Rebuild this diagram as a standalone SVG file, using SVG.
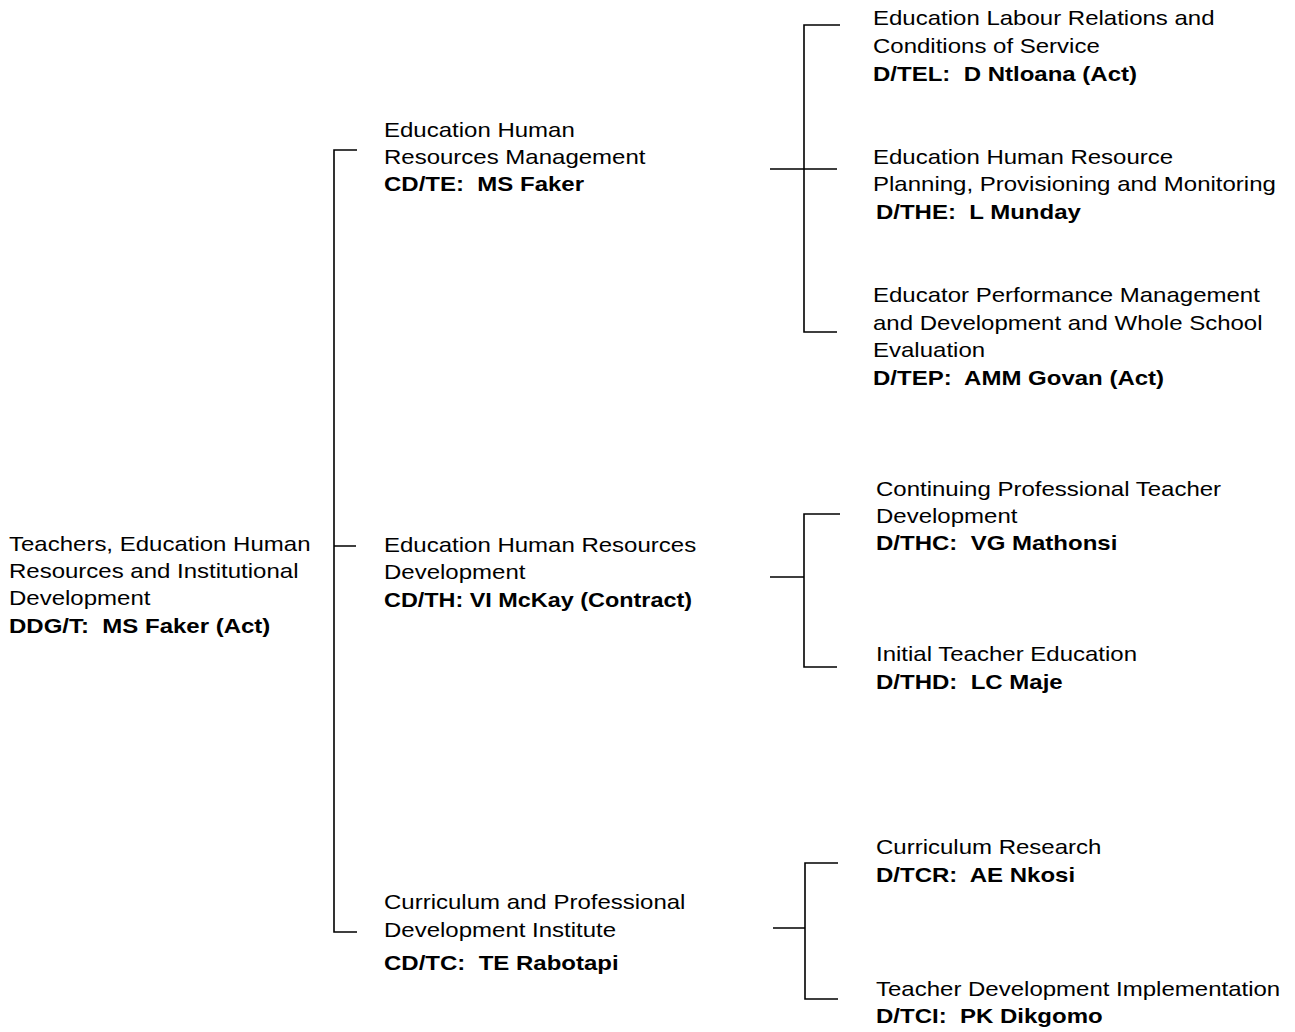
<svg xmlns="http://www.w3.org/2000/svg" width="1295" height="1032" viewBox="0 0 1295 1032" xml:space="preserve">
  <style>
    text { font-family: "Liberation Sans", Arial, sans-serif; font-size: 21px; fill: #000; white-space: pre; }
    .b { font-weight: bold; }
    .ln { stroke: #000; stroke-width: 1.6; fill: none; }
  </style>
  <rect width="1295" height="1032" fill="#fff"/>

  <!-- connectors: bracket lines -->
  <g id="connectors">
    <path class="ln" d="M357 150 H334 V932 H357 M334 546 H356"/>
    <path class="ln" d="M840 25 H804 V332 H837 M770 169 H837"/>
    <path class="ln" d="M840 514 H804 V667 H837 M770 577 H804"/>
    <path class="ln" d="M838 863 H805 V999 H838 M773 928 H805"/>
  </g>

  <!-- text is set slightly wide to fit the column widths -->
  <g id="ddg" transform="translate(9 0) scale(1.143 1)">
    <text x="0" y="551">Teachers, Education Human</text>
    <text x="0" y="578">Resources and Institutional</text>
    <text x="0" y="605">Development</text>
    <text class="b" x="0" y="633">DDG/T:  MS Faker (Act)</text>
  </g>

  <g id="cd-te" transform="translate(384 0) scale(1.143 1)">
    <text x="0" y="137">Education Human</text>
    <text x="0" y="164">Resources Management</text>
    <text class="b" x="0" y="191">CD/TE:  MS Faker</text>
  </g>

  <g id="cd-th" transform="translate(384 0) scale(1.143 1)">
    <text x="0" y="552">Education Human Resources</text>
    <text x="0" y="579">Development</text>
    <text class="b" x="0" y="607" textLength="269.5" lengthAdjust="spacingAndGlyphs">CD/TH: VI McKay (Contract)</text>
  </g>

  <g id="cd-tc" transform="translate(384 0) scale(1.143 1)">
    <text x="0" y="909">Curriculum and Professional</text>
    <text x="0" y="937">Development Institute</text>
    <text class="b" x="0" y="970">CD/TC:  TE Rabotapi</text>
  </g>

  <g id="d-tel" transform="translate(873 0) scale(1.143 1)">
    <text x="0" y="25">Education Labour Relations and</text>
    <text x="0" y="53">Conditions of Service</text>
    <text class="b" x="0" y="81">D/TEL:  D Ntloana (Act)</text>
  </g>

  <g id="d-the" transform="translate(873 0) scale(1.143 1)">
    <text x="0" y="164">Education Human Resource</text>
    <text x="0" y="191">Planning, Provisioning and Monitoring</text>
    <text class="b" x="2.6" y="219">D/THE:  L Munday</text>
  </g>

  <g id="d-tep" transform="translate(873 0) scale(1.143 1)">
    <text x="0" y="302">Educator Performance Management</text>
    <text x="0" y="330">and Development and Whole School</text>
    <text x="0" y="357">Evaluation</text>
    <text class="b" x="0" y="385">D/TEP:  AMM Govan (Act)</text>
  </g>

  <g id="d-thc" transform="translate(876 0) scale(1.143 1)">
    <text x="0" y="496">Continuing Professional Teacher</text>
    <text x="0" y="523">Development</text>
    <text class="b" x="0" y="550">D/THC:  VG Mathonsi</text>
  </g>

  <g id="d-thd" transform="translate(876 0) scale(1.143 1)">
    <text x="0" y="661">Initial Teacher Education</text>
    <text class="b" x="0" y="689">D/THD:  LC Maje</text>
  </g>

  <g id="d-tcr" transform="translate(876 0) scale(1.143 1)">
    <text x="0" y="854">Curriculum Research</text>
    <text class="b" x="0" y="882">D/TCR:  AE Nkosi</text>
  </g>

  <g id="d-tci" transform="translate(876 0) scale(1.143 1)">
    <text x="0" y="996">Teacher Development Implementation</text>
    <text class="b" x="0" y="1023">D/TCI:  PK Dikgomo</text>
  </g>
</svg>
